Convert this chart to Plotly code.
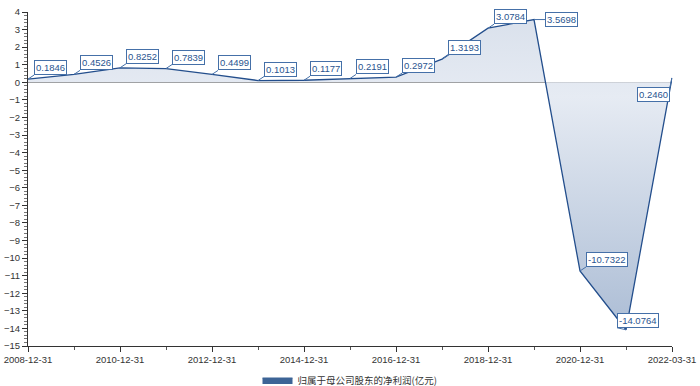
import plotly.graph_objects as go

dates = ["2008-12-31", "2009-12-31", "2010-12-31", "2011-12-31", "2012-12-31",
         "2013-12-31", "2014-12-31", "2015-12-31", "2016-12-31", "2017-12-31",
         "2018-12-31", "2019-12-31", "2020-12-31", "2021-12-31", "2022-03-31"]
profit = [0.1846, 0.4526, 0.8252, 0.7839, 0.4499, 0.1013, 0.1177, 0.2191,
          0.2972, 1.3193, 3.0784, 3.5698, -10.7322, -14.0764, 0.2460]
series_name = "归属于母公司股东的净利润(亿元)"
label_text = ["%.4f" % v for v in profit]

idx = list(range(len(dates)))
tick_idx = idx[::2]
tick_text = [dates[i] for i in tick_idx]

LINE = "#234e8c"
LBL = "#4570a8"
FONT = "Liberation Sans, Noto Sans CJK SC, sans-serif"
CJK = "Noto Sans CJK SC, sans-serif"

fig = go.Figure()
fig.add_trace(go.Scatter(
    x=idx, y=profit, mode="lines", name=series_name, showlegend=False,
    line=dict(color=LINE, width=1.3),
    fill="tozeroy",
    fillgradient=dict(type="vertical",
                      colorscale=[[0, "rgb(172,189,213)"], [0.75, "rgb(230,235,243)"],
                                  [1, "rgb(218,225,236)"]]),
    hoverinfo="x+y",
))
# legend entry for the series (no marks of its own)
fig.add_trace(go.Scatter(
    x=[None], y=[None], mode="lines", name=series_name, fill="toself",
    fillcolor="#3d6496", line=dict(color="#3d6496", width=1), hoverinfo="skip",
))

special = {
    11: dict(ax=11, ay=0, xanchor="left", yanchor="middle"),
    13: dict(ax=-9, ay=-2, xanchor="left", yanchor="bottom"),
    14: dict(ax=-2, ay=9, xanchor="right", yanchor="top"),
}
anns = []
for i, (v, t) in enumerate(zip(profit, label_text)):
    p = special.get(i, dict(ax=6, ay=-4, xanchor="left", yanchor="bottom"))
    anns.append(dict(
        x=i, y=v, xref="x", yref="y", text=t, showarrow=True,
        arrowhead=0, arrowwidth=1, arrowcolor=LBL,
        ax=p["ax"], ay=p["ay"], xanchor=p["xanchor"], yanchor=p["yanchor"],
        bgcolor="white", bordercolor=LBL, borderwidth=1, borderpad=1,
        font=dict(family=FONT, size=9.5, color="#2a5590"),
    ))

fig.update_layout(
    width=700, height=386,
    margin=dict(l=28, r=28, t=12, b=40, autoexpand=False),
    paper_bgcolor="white", plot_bgcolor="white",
    font=dict(family=FONT, size=10, color="#333333"),
    annotations=anns,
    showlegend=True,
    legend=dict(orientation="h", x=0.5, xanchor="center", y=-0.1018, yanchor="middle",
                font=dict(family=CJK, size=9.5, color="#333333"),
                bgcolor="rgba(0,0,0,0)"),
    xaxis=dict(range=[0, 14], tickmode="array", tickvals=tick_idx, ticktext=tick_text,
               automargin=False,
               showgrid=False, zeroline=False, showline=True, linecolor="#333333",
               linewidth=1, ticks="outside", ticklen=5, tickcolor="#333333",
               tickfont=dict(size=9.5, color="#333333"),
               minor=dict(dtick=1, tick0=0, ticks="outside", ticklen=3,
                          tickcolor="#555555", showgrid=False)),
    yaxis=dict(range=[-15, 4], dtick=1, tick0=0, showgrid=False, automargin=False,
               zeroline=True, zerolinecolor="#8a8a8a", zerolinewidth=1.2,
               showline=True, linecolor="#333333", linewidth=1,
               ticks="outside", ticklen=5, tickcolor="#333333",
               tickfont=dict(size=9.5, color="#333333"),
               layer="above traces",
               minor=dict(dtick=0.2, ticks="outside", ticklen=3,
                          tickcolor="#777777", showgrid=False)),
)

fig.write_html("out.html", config={"displayModeBar": False},
               post_script="document.body.style.margin='0';document.body.style.overflow='hidden';")
